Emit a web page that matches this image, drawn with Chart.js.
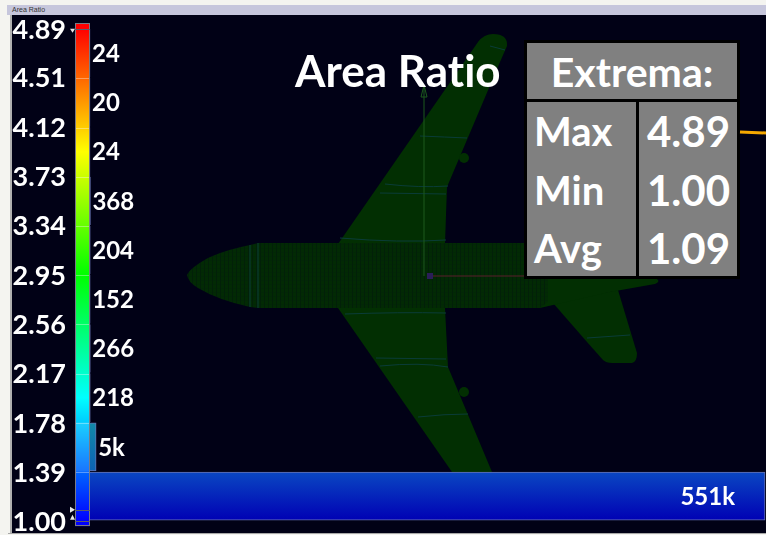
<!DOCTYPE html>
<html>
<head>
<meta charset="utf-8">
<title>Area Ratio</title>
<script src="https://cdn.jsdelivr.net/npm/chart.js@4"></script>
<style>
    html, body { margin: 0; padding: 0; background: #f4f4f0; }
    #page { position: relative; width: 766px; height: 535px; overflow: hidden; font-family: Lato, sans-serif; font-variant-ligatures: none; }
    #titlebar { position: absolute; left: 7px; top: 5px; width: 759px; height: 10px; background: #c6c6dc; color: #333; font: 7px/10px "Liberation Sans", sans-serif; padding-left: 5px; box-sizing: border-box; }
    #view { position: absolute; left: 10px; top: 15px; width: 756px; height: 518px; background: #010116; border-left: 2px solid #b0b0b0; box-sizing: border-box; }
    #baseline { position: absolute; left: 8px; top: 533px; width: 758px; height: 1px; background: #a8a8a8; }
    #plane, #chart, #callout { position: absolute; left: 0; top: 0; }
    #heading { position: absolute; left: 295px; top: 44px; color: #fff; font-weight: 700; font-size: 44px; line-height: 52px; white-space: nowrap; }
    #extrema { position: absolute; left: 524px; top: 40px; width: 216px; height: 239px; background: #000; color: #fff; font-weight: 700; }
    #extrema div { position: absolute; background: #808080; white-space: pre; }
    #ext-head { left: 3px; top: 3px; width: 210px; height: 56px; font-size: 41px; line-height: 58px; text-align: center; }
    #ext-names { left: 3px; top: 62px; width: 109px; height: 174px; font-size: 40px; line-height: 58.5px; padding-left: 7px; box-sizing: border-box; }
    #ext-values { left: 115px; top: 62px; width: 98px; height: 174px; font-size: 42px; line-height: 58.5px; text-align: right; padding-right: 7px; box-sizing: border-box; }
</style>
</head>
<body>
<div id="page">
    <div id="titlebar">Area Ratio</div>
    <div id="view"></div>
    <div id="baseline"></div>
    <!-- aircraft mesh sitting behind the plot -->
    <svg id="plane" width="766" height="535">
        <defs>
            <pattern id="mesh" width="4" height="4" patternUnits="userSpaceOnUse">
                <rect width="4" height="4" fill="#022a04"/>
                <path d="M0 0V4" stroke="#01160c" stroke-width="1"/>
                <path d="M0 0H4" stroke="#02200a" stroke-width="0.6"/>
            </pattern>
        </defs>
        <g fill="#022f02">
            <path d="M338 244 L478 42 Q484 34 493 34 Q508 34 507 46 L500 62 L447 187 L445 244 Z"/>
            <path d="M338 308 L445 308 L448 367 L492 472 L452 472 Z"/>
            <path d="M553 303 L587 342 L603 360 Q606 363 612 363 L632 363 Q637 362 637 353 L618 290 Z"/>
            <path d="M540 243 L610 262 L655 278 Q662 281 655 284 L610 292 L540 308 Z"/>
            <circle cx="464" cy="158" r="5"/>
            <circle cx="464" cy="392" r="5"/>
        </g>
        <path d="M187 275 Q190 268 208 258 Q225 250 250 245 L258 243 L540 243 L548 250 L548 302 L540 308 L258 308 L250 307 Q218 300 198 288 Q188 282 187 275 Z" fill="url(#mesh)"/>
        <g fill="none" stroke="#0a3c38" stroke-width="1">
            <path d="M420 136 Q445 137 467 138"/>
            <path d="M385 184 Q420 188 448 186"/>
            <path d="M380 193 L446 194"/>
            <path d="M340 238 Q400 243 446 240"/>
            <path d="M345 314 Q400 312 446 313"/>
            <path d="M376 358 L446 359"/>
            <path d="M380 366 Q420 362 448 367"/>
            <path d="M418 417 Q445 414 468 414"/>
            <path d="M490 46 L505 50"/>
            <path d="M587 338 L630 335"/>
            <path d="M250 245 L250 307 M258 243 L258 308"/>
        </g>
        <path d="M424 276 V87" stroke="#1d5a1d" stroke-width="1"/>
        <path d="M424 85 L421 97 H427 Z" fill="none" stroke="#1d5a1d" stroke-width="1"/>
        <path d="M430 276 H527" stroke="#5a1f2a" stroke-width="1"/>
        <rect x="427" y="273" width="6" height="6" fill="#2b1e58"/>
    </svg>
    <canvas id="chart" width="766" height="535"></canvas>
    <div id="heading">Area Ratio</div>
    <div id="extrema">
        <div id="ext-head">Extrema:</div>
        <div id="ext-names">Max
Min
Avg</div>
        <div id="ext-values">4.89
1.00
1.09</div>
    </div>
    <svg id="callout" width="766" height="535" style="pointer-events:none">
        <path d="M740 132 L766 133" stroke="#f5a800" stroke-width="3"/>
    </svg>
</div>

<script>
// Histogram bins, bottom to top
const binCenters = [1.1945, 1.5835, 1.9725, 2.3615, 2.7505, 3.1395, 3.5285, 3.9175, 4.3065, 4.6955];
const binCounts = [551000, 5000, 218, 266, 152, 204, 368, 24, 20, 24];
const binLabels = ['551k', '5k', '218', '266', '152', '204', '368', '24', '20', '24'];

// Left hand scale
const tickValues = [1.00, 1.39, 1.78, 2.17, 2.56, 2.95, 3.34, 3.73, 4.12, 4.51, 4.89];

// Colour bar stops, from min to max
const rampValues = [1.00, 1.9725, 2.945, 3.9175, 4.89];
const rampColors = ['#0000ff', '#00ffff', '#00ff00', '#ffff00', '#ff0000'];

const labelFont = '700 24px Lato, sans-serif';

// Bars start under the colour bar, so zero count sits on its right edge
const xMin = -12244;
const xMax = 551800;

function barFill(ctx) {
    const y = ctx.chart.scales.y;
    const i = ctx.dataIndex;
    if (!y || i === undefined) return '#0000c0';
    const top = y.getPixelForValue(binCenters[i] + 0.1945);
    const bottom = y.getPixelForValue(binCenters[i] - 0.1945);
    if (!Number.isFinite(top) || !Number.isFinite(bottom)) return '#0000c0';
    const grad = ctx.chart.ctx.createLinearGradient(0, top, 0, bottom);
    if (i === 0) {
        grad.addColorStop(0, '#0a48c2');
        grad.addColorStop(1, '#0000b4');
    } else {
        grad.addColorStop(0, '#128aa8');
        grad.addColorStop(1, '#0c62b4');
    }
    return grad;
}

// Colour bar, bin lines and count labels go over the bars
const colorBarPlugin = {
    id: 'colorBar',
    afterDatasetsDraw(chart) {
        const { ctx, scales } = chart;
        const y = scales.y;
        const left = chart.chartArea.left;
        const width = 15;
        const top = y.getPixelForValue(4.89) - 5.5;
        const bottom = y.getPixelForValue(1.00) + 5.5;
        const grad = ctx.createLinearGradient(0, y.getPixelForValue(1.00), 0, y.getPixelForValue(4.89));
        rampValues.forEach((v, i) => grad.addColorStop((v - 1.00) / 3.89, rampColors[i]));

        ctx.save();
        ctx.fillStyle = grad;
        ctx.fillRect(left, top, width, bottom - top);

        // lighter veil over the two lowest bins, where the bars show through
        const bars = chart.getDatasetMeta(0).data;
        ctx.fillStyle = 'rgba(255,255,255,0.10)';
        ctx.fillRect(left, y.getPixelForValue(1.778), width, y.getPixelForValue(1.389) - y.getPixelForValue(1.778));

        ctx.strokeStyle = 'rgba(255,255,255,0.35)';
        ctx.lineWidth = 1;
        bars.forEach(bar => {
            const edge = Math.round(bar.y - bar.height / 2) + 0.5;
            ctx.beginPath();
            ctx.moveTo(left, edge);
            ctx.lineTo(left + width, edge);
            ctx.stroke();
        });

        ctx.strokeStyle = '#7a7a86';
        ctx.strokeRect(left + 0.5, Math.round(top) + 0.5, width - 1, Math.round(bottom - top) - 1);
        ctx.strokeStyle = '#5c5c6c';
        [4.89, 1.087, 1.00].forEach(v => {
            const py = Math.round(y.getPixelForValue(v)) + 0.5;
            ctx.beginPath();
            ctx.moveTo(left, py);
            ctx.lineTo(left + width, py);
            ctx.stroke();
        });

        // min and max markers next to the bar
        ctx.fillStyle = '#e8e8e8';
        const topMark = y.getPixelForValue(4.89) + 2;
        ctx.beginPath();
        ctx.moveTo(left - 5, topMark - 2);
        ctx.lineTo(left, topMark - 2);
        ctx.lineTo(left - 2.5, topMark + 2);
        ctx.fill();
        const lowMark = y.getPixelForValue(1.087);
        ctx.beginPath();
        ctx.moveTo(left - 5, lowMark - 3);
        ctx.lineTo(left, lowMark);
        ctx.lineTo(left - 5, lowMark + 3);
        ctx.fill();
        const minMark = y.getPixelForValue(1.00) - 3;
        ctx.beginPath();
        ctx.moveTo(left - 2.5, minMark - 3);
        ctx.lineTo(left, minMark + 2);
        ctx.lineTo(left - 5, minMark + 2);
        ctx.fill();

        // counts
        ctx.fillStyle = '#fff';
        ctx.font = labelFont;
        ctx.textBaseline = 'middle';
        bars.forEach((bar, i) => {
            if (i === 0) {
                ctx.textAlign = 'right';
                ctx.fillText(binLabels[i], bar.x - 30, bar.y + 1);
            } else {
                ctx.textAlign = 'left';
                ctx.fillText(binLabels[i], bar.x + 2, bar.y + 1);
            }
        });
        ctx.restore();
    }
};

new Chart(document.getElementById('chart'), {
    type: 'bar',
    data: {
        datasets: [{
            label: 'Area Ratio',
            data: binCenters.map((c, i) => ({ x: binCounts[i], y: c })),
            base: xMin,
            backgroundColor: barFill,
            borderColor: '#6672b0',
            borderWidth: 1,
            barPercentage: 1,
            categoryPercentage: 1
        }]
    },
    plugins: [colorBarPlugin],
    options: {
        indexAxis: 'y',
        responsive: false,
        animation: false,
        layout: { padding: { top: 16, bottom: 2, left: 0, right: 0 } },
        plugins: { legend: { display: false }, tooltip: { enabled: false } },
        scales: {
            x: { type: 'linear', min: xMin, max: xMax, display: false },
            y: {
                type: 'linear',
                min: 0.903,
                max: 4.99,
                offset: false,
                grid: { display: false, offset: false },
                border: { display: false },
                afterBuildTicks: axis => { axis.ticks = tickValues.map(v => ({ value: v })); },
                afterFit: axis => {
                    axis.width = 75;
                    // the end labels must not shrink the plot area
                    axis.paddingTop = 0;
                    axis.paddingBottom = 0;
                },
                ticks: {
                    autoSkip: false,
                    color: '#fff',
                    padding: 1,
                    labelOffset: 2,
                    font: { family: 'Lato, sans-serif', size: 27, weight: '700' },
                    callback: v => v.toFixed(2)
                }
            }
        }
    }
});
</script>
</body>
</html>
